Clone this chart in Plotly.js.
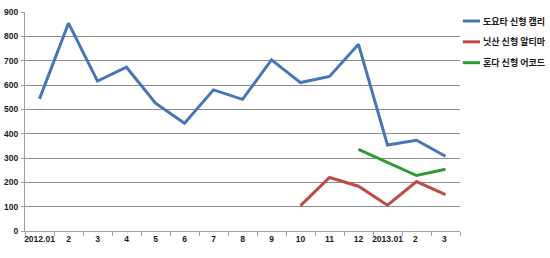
<!DOCTYPE html>
<html>
<head>
<meta charset="utf-8">
<script src="https://cdn.plot.ly/plotly-3.0.1.min.js"></script>
<style>html,body{margin:0;padding:0;background:#fff;}#chart{width:550px;height:258px;}</style>
</head>
<body>
<div id="chart"></div>
<script>
const categories = ["2012.01","2","3","4","5","6","7","8","9","10","11","12","2013.01","2 ","3 "];
const seriesNames = ["도요타 신형 캠리","닛산 신형 알티마","혼다 신형 어코드"];
const camry  = [543, 854, 616, 673, 525, 443, 580, 541, 703, 610, 635, 767, 353, 373, 307];
const altima = [null, null, null, null, null, null, null, null, null, 104, 220, 184, 106, 203, 149];
const accord = [null, null, null, null, null, null, null, null, null, null, null, 335, 281, 228, 254];
const colors = ["#4676B4", "#BE4B48", "#2E9A34"];
const yTicks = [0,100,200,300,400,500,600,700,800,900];

const font = {family: "'Liberation Sans', 'Noto Sans CJK KR', sans-serif", size: 8.5, color: "#1a1a1a", weight: "bold"};
const legFont = {family: "'Noto Sans CJK KR', sans-serif", size: 9, color: "#1a1a1a", weight: "bold"};
const values = [camry, altima, accord];
const traces = values.map((v, i) => ({
  x: categories, y: v, type: "scatter", mode: "lines", name: seriesNames[i],
  line: {color: colors[i], width: 3}, connectgaps: false, showlegend: false, hoverinfo: "skip"
}));

const shapes = [], annotations = [];
seriesNames.forEach((n, i) => {
  const yp = 1 - (9 + i * 20.8) / 218.7;
  shapes.push({type: "line", xref: "paper", yref: "paper", x0: 1.0065, x1: 1.046, y0: yp, y1: yp,
    line: {color: colors[i], width: 3}});
  annotations.push({xref: "paper", yref: "paper", x: 1.048, y: yp, xanchor: "left", yanchor: "middle",
    text: n, showarrow: false, font: legFont});
});

const layout = {
  width: 550, height: 258,
  margin: {l: 25, r: 90, t: 12, b: 27, pad: 0},
  paper_bgcolor: "#fff", plot_bgcolor: "#fff",
  font: font,
  xaxis: {type: "category", range: [-0.5, 14.5], tickson: "boundaries", ticks: "outside", ticklen: 4,
    tickcolor: "#a0a0a0", showline: true, linecolor: "#a0a0a0", linewidth: 1, showgrid: false,
    tickfont: font, tickangle: 0, fixedrange: true, zeroline: false},
  yaxis: {range: [0, 900], tickvals: yTicks, ticks: "outside", ticklen: 3, tickcolor: "#a0a0a0",
    showline: true, linecolor: "#a0a0a0", linewidth: 1, gridcolor: "#8c8c8c", gridwidth: 1,
    tickfont: font, zeroline: false, fixedrange: true, ticklabelstandoff: 1},
  shapes: shapes, annotations: annotations, showlegend: false
};
Plotly.newPlot("chart", traces, layout, {displayModeBar: false, staticPlot: true});
</script>
</body>
</html>
